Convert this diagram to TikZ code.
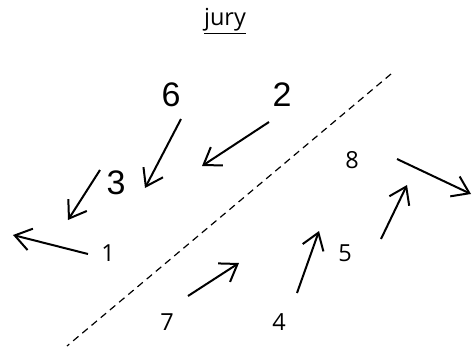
\documentclass[tikz,border=0pt]{standalone}
\usepackage{fontspec}
\setmainfont{Open Sans}
\newfontfamily\arialf{Liberation Sans}
\usetikzlibrary{arrows.meta}
\tikzset{
  arr/.style={line width=2pt, -{Straight Barb[length=16pt,width=22pt,line width=2pt]}},
  big/.style={font=\arialf\fontsize{34}{38}\selectfont, inner sep=0pt},
  small/.style={font=\fontsize{23.5}{26}\selectfont, inner sep=0pt},
  divider/.style={line width=1.2pt, dash pattern=on 7pt off 5pt}
}
\begin{document}
\begin{tikzpicture}[x=1pt,y=-1pt]
\useasboundingbox (0,0) rectangle (472,346);
\node[font=\fontsize{23.5}{26}\selectfont, inner sep=0pt] (title) at (225,21) {\underline{jury}};
\coordinate (dA) at (391,74);
\coordinate (dB) at (67,346);
\draw[divider] (dA) -- (dB);
\node[big] (n6) at (171,95) {6};
\node[big] (n2) at (282,95) {2};
\node[big] (n3) at (116,183) {3};
\node[small] (n8) at (352,160) {8};
\node[small] (n1) at (108,253) {1};
\node[small] (n5) at (345,253) {5};
\node[small] (n7) at (167,322) {7};
\node[small] (n4) at (279,322) {4};
\coordinate (a6s) at (181,119); \coordinate (a6e) at (145,188);
\coordinate (a2s) at (269,122); \coordinate (a2e) at (202,166);
\coordinate (a3s) at (100,170); \coordinate (a3e) at (68,220);
\coordinate (a1s) at (88,254);  \coordinate (a1e) at (13,235);
\coordinate (a7s) at (188,296); \coordinate (a7e) at (239,263);
\coordinate (a4s) at (297,293); \coordinate (a4e) at (319,231);
\coordinate (a5s) at (381,239); \coordinate (a5e) at (407,185);
\coordinate (a8s) at (397,159); \coordinate (a8e) at (471,194);
\draw[arr] (a6s) -- (a6e);
\draw[arr] (a2s) -- (a2e);
\draw[arr] (a3s) -- (a3e);
\draw[arr] (a1s) -- (a1e);
\draw[arr] (a7s) -- (a7e);
\draw[arr] (a4s) -- (a4e);
\draw[arr] (a5s) -- (a5e);
\draw[arr] (a8s) -- (a8e);
\end{tikzpicture}
\end{document}
